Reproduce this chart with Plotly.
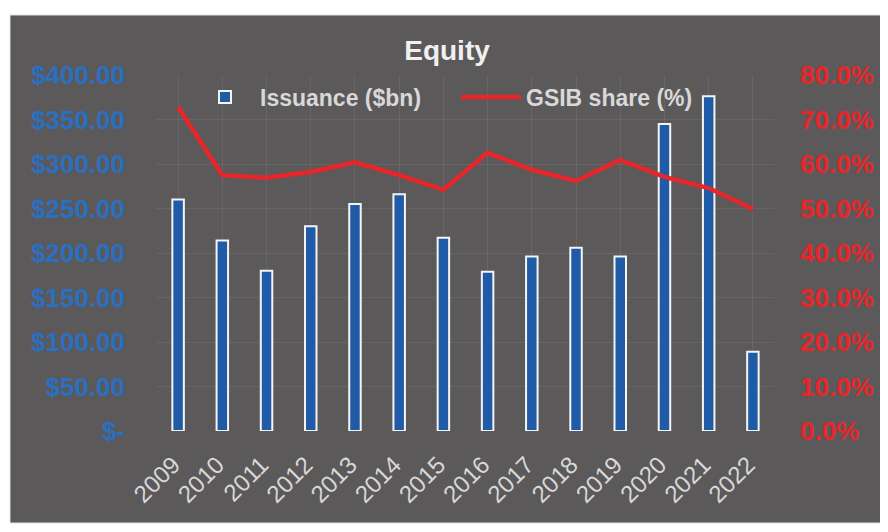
import plotly.graph_objects as go

years = ["2009", "2010", "2011", "2012", "2013", "2014", "2015", "2016",
         "2017", "2018", "2019", "2020", "2021", "2022"]
issuance_bn = [260, 214, 180, 230, 255, 266, 217, 179, 196, 206, 196, 345, 376, 89]
gsib_share_pct = [72.8, 57.5, 56.9, 58.2, 60.4, 57.5, 54.2, 62.5, 58.7, 56.2, 60.9, 57.1, 54.6, 49.9]

left_tickvals = [0, 50, 100, 150, 200, 250, 300, 350, 400]
left_ticktext = ["$-", "$50.00", "$100.00", "$150.00", "$200.00", "$250.00",
                 "$300.00", "$350.00", "$400.00"]
right_tickvals = [0, 10, 20, 30, 40, 50, 60, 70, 80]
right_ticktext = ["0.0%", "10.0%", "20.0%", "30.0%", "40.0%", "50.0%",
                  "60.0%", "70.0%", "80.0%"]

# page offset (browser body margin)
OFF = 8
W, H = 888 - OFF, 532 - OFF
PL, PR, PT, PB = 156, 775, 75, 431          # plot-area edges in page pixels
ML, MT = PL - OFF, PT - OFF
MR, MB = W - (PR - OFF), H - (PB - OFF)
PW, PH = W - ML - MR, H - MT - MB

def px_x(p):
    return (p - OFF - ML) / PW

def px_y(p):
    return (H - MB - (p - OFF)) / PH

BLUE_BAR = "#1f5ba6"
BLUE_TXT = "#2a6fc0"
RED = "#e8262a"
PANEL = "#5b595a"
LIGHT = "#d8d8d8"

fig = go.Figure()
fig.add_trace(go.Bar(
    x=years, y=issuance_bn, name="Issuance ($bn)",
    marker=dict(color=BLUE_BAR, line=dict(color="#f4f4f4", width=2)),
    width=0.26, yaxis="y",
))
fig.add_trace(go.Scatter(
    x=years, y=gsib_share_pct, name="GSIB share (%)", mode="lines",
    line=dict(color=RED, width=4.5), yaxis="y2",
))

fig.add_shape(type="rect", xref="paper", yref="paper",
              x0=px_x(10), x1=px_x(882), y0=px_y(523), y1=px_y(15),
              fillcolor=PANEL, line=dict(color="#e0e0e0", width=1), layer="below")

fig.update_layout(
    width=W, height=H,
    margin=dict(l=ML, r=MR, t=MT, b=MB),
    paper_bgcolor="white",
    plot_bgcolor="rgba(0,0,0,0)",
    title=dict(text="<b>Equity</b>", x=px_x(447), xanchor="center", xref="paper",
               y=1 - (50 - OFF) / H, yref="container", yanchor="middle",
               font=dict(family="Liberation Sans, Arial", size=28, color="#f0f0f0")),
    showlegend=True,
    legend=dict(orientation="h", x=px_x(190), y=px_y(97), xanchor="left", yanchor="middle",
                bgcolor="rgba(0,0,0,0)", itemwidth=60, entrywidth=191,
                font=dict(family="Liberation Sans, Arial", size=23, color=LIGHT, weight="bold")),
    bargap=0.5,
    xaxis=dict(
        type="category", tickangle=-45, showgrid=True,
        gridcolor="rgba(255,255,255,0.07)",
        tickfont=dict(family="Liberation Sans, Arial", size=24, color=LIGHT),
        showline=False, zeroline=False, ticks="",
        ticklabelstandoff=14, ticklabelshift=-5,
    ),
    yaxis=dict(
        range=[0, 400], tickvals=left_tickvals, ticktext=left_ticktext,
        showgrid=True, gridcolor="rgba(255,255,255,0.07)", zeroline=False,
        tickfont=dict(family="Liberation Sans, Arial", size=26, color=BLUE_TXT, weight="bold"),
        ticklabelstandoff=30,
    ),
    yaxis2=dict(
        range=[0, 80], tickvals=right_tickvals, ticktext=right_ticktext,
        overlaying="y", side="right", showgrid=False, zeroline=False,
        tickfont=dict(family="Liberation Sans, Arial", size=26, color=RED, weight="bold"),
        ticklabelstandoff=24,
    ),
)

fig.write_html("out.html")
